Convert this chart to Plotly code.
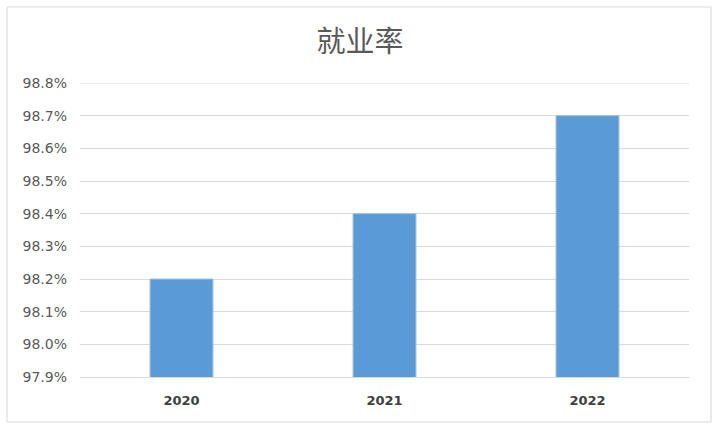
import plotly.graph_objects as go

years = ["2020", "2021", "2022"]
rates = [98.2, 98.4, 98.7]
title_text = "就业率"
y_min, y_max, y_step = 97.9, 98.8, 0.1

fig = go.Figure()
fig.add_trace(go.Bar(
    x=years, y=rates,
    marker=dict(color="#5b9bd5", line=dict(color="#9dc3e6", width=1)),
    width=0.31,
))

fig.update_layout(
    width=720, height=432,
    margin=dict(l=80, r=31, t=83, b=55),
    paper_bgcolor="white", plot_bgcolor="white",
    showlegend=False,
    title=dict(text=title_text, x=0.5, xanchor="center", y=0.902, yanchor="middle",
               font=dict(family="Noto Sans CJK SC", size=29, color="#595959")),
    xaxis=dict(showgrid=False, showline=True, linecolor="#d9d9d9", linewidth=1,
               ticks="", ticklabelstandoff=11,
               tickfont=dict(family="DejaVu Sans", size=13, color="#404040", weight="bold")),
    yaxis=dict(range=[y_min, y_max], dtick=y_step, tick0=y_min, tickformat=".1f", ticksuffix="%",
               showgrid=True, gridcolor="#d9d9d9", gridwidth=1, zeroline=False,
               ticks="", ticklabelstandoff=12,
               tickfont=dict(family="DejaVu Sans", size=14, color="#595959"),
               automargin=False),
    shapes=[
        dict(type="rect", xref="paper", yref="paper",
             x0=-0.1199, x1=1.0361, y0=-0.153, y1=1.2585,
             line=dict(color="#d9d9d9", width=1), fillcolor="rgba(0,0,0,0)", layer="below"),
        dict(type="line", xref="paper", yref="y", x0=0, x1=1, y0=y_max, y1=y_max,
             line=dict(color="#d9d9d9", width=1), layer="below"),
    ],
)

fig.write_html("out.html", config={"displayModeBar": False},
               post_script="document.body.style.margin='0px';")
